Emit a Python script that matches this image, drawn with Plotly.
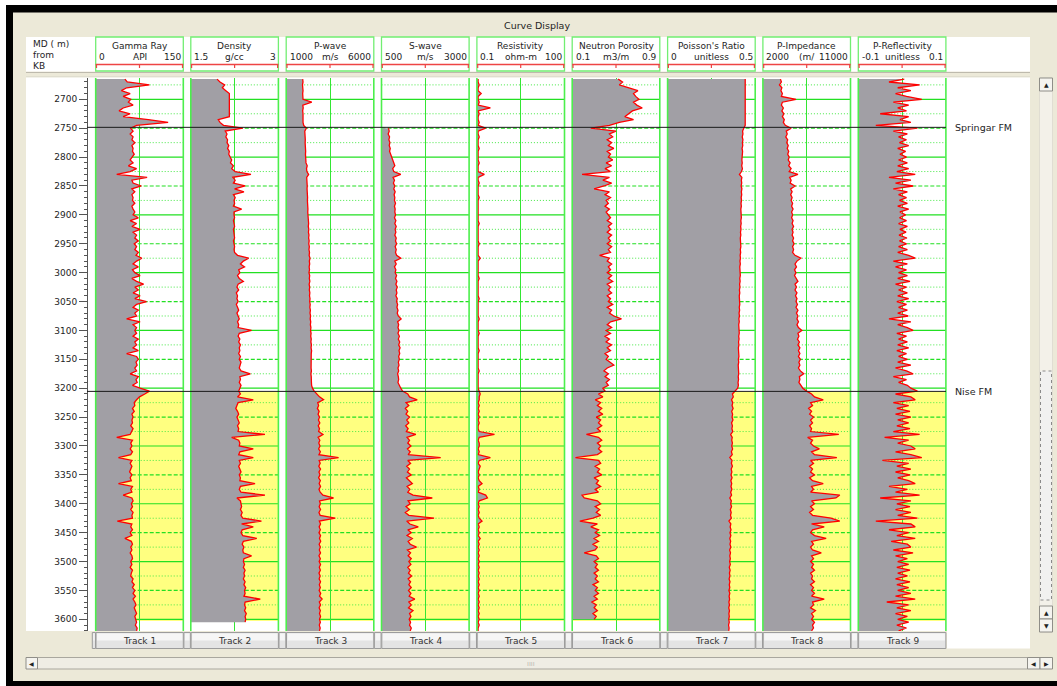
import math
import plotly.graph_objects as go

W, H = 1057, 686


def fx(x):
    return x / W


def fy(y):
    return 1 - y / H


# ---------------------------------------------------------------- data
TRACK_TITLES = ["Gamma Ray", "Density", "P-wave", "S-wave", "Resistivity",
                "Neutron Porosity", "Poisson's Ratio", "P-Impedance", "P-Reflectivity"]
TRACK_UNITS = ["API", "g/cc", "m/s", "m/s", "ohm-m", "m3/m", "unitless", "(m/", "unitless"]
SCALE_MIN = [0, 1.5, 1000, 500, 0.1, 0.1, 0, 2000, -0.1]
SCALE_MAX = [150, 3, 6000, 3000, 100, 0.9, 0.5, 11000, 0.1]
SCALE_MIN_LABELS = ["0", "1.5", "1000", "500", "0.1", "0.1", "0", "2000", "-0.1"]
SCALE_MAX_LABELS = ["150", "3", "6000", "3000", "100", "0.9", "0.5", "11000", "0.1"]
SCALE_LOG = [False, False, False, False, True, False, False, False, False]
BUTTON_LABELS = ["Track 1", "Track 2", "Track 3", "Track 4", "Track 5",
                 "Track 6", "Track 7", "Track 8", "Track 9"]

FORMATION_NAMES = ["Springar FM", "Nise FM"]
FORMATION_TOPS = [2748.5, 3205.5]
NISE_BASE = 3603

DEPTH_STEP = 5

GR_START = 2665
GR = [50, 54, 92, 53, 44, 59, 47,
      60, 56, 64, 47, 40, 59, 47, 90, 124, 70, 60, 64, 59, 64, 62, 67, 62, 64, 63, 66,
      62, 59, 64, 56, 70, 59, 36, 88, 62, 64, 78, 62, 67, 62, 64, 63, 67, 62, 64, 67,
      64, 73, 59, 70, 62, 76, 64, 70, 67, 73, 66, 70, 67, 73, 69, 79, 70, 64, 73, 63,
      67, 76, 62, 70, 82, 67, 73, 64, 76, 67, 87, 70, 64, 73, 67, 70, 53, 76, 64, 70,
      67, 70, 64, 73, 67, 70, 64, 73, 53, 70, 73, 69, 71, 67, 70, 59, 73, 69, 71, 63,
      76, 92, 84, 75, 70, 66, 67, 63, 66, 62, 64, 62, 63, 60, 64, 62, 59, 36, 63, 60,
      62, 59, 63, 60, 39, 62, 59, 62, 60, 58, 62, 59, 61, 39, 63, 60, 62, 47, 62, 64,
      61, 63, 60, 64, 62, 63, 37, 62, 60, 63, 59, 62, 50, 61, 63, 60, 62, 59, 62, 63,
      60, 62, 59, 63, 61, 60, 64, 62, 66, 63, 67, 64, 68, 64, 67, 69, 66, 68, 70, 67,
      69, 70, 68, 71, 70]

DEN_START = 2665
DEN = [1.95, 2.00, 2.08, 2.04, 2.10, 2.16, 2.16,
       2.16, 2.16, 2.16, 2.16, 2.16, 2.16, 2.16, 1.97, 2.00, 2.06, 2.39, 2.09, 2.12, 2.10, 2.13, 2.12, 2.15, 2.13, 2.16, 2.15,
       2.17, 2.20, 2.18, 2.23, 2.20, 2.26, 2.53, 2.22, 2.26, 2.23, 2.43, 2.25, 2.41, 2.23, 2.26, 2.24, 2.25, 2.23, 2.37, 2.24,
       2.24, 2.25, 2.23, 2.24, 2.25, 2.23, 2.24, 2.24, 2.25, 2.23, 2.24, 2.25, 2.24, 2.25, 2.30, 2.49, 2.40, 2.35, 2.42, 2.32,
       2.34, 2.30, 2.33, 2.40, 2.31, 2.29, 2.32, 2.28, 2.30, 2.29, 2.31, 2.28, 2.30, 2.32, 2.29, 2.31, 2.33, 2.30, 2.32, 2.31,
       2.54, 2.33, 2.31, 2.34, 2.32, 2.35, 2.33, 2.34, 2.32, 2.35, 2.33, 2.36, 2.34, 2.33, 2.36, 2.52, 2.34, 2.35, 2.33, 2.36,
       2.34, 2.32, 2.35, 2.30, 2.57, 2.31, 2.29, 2.27, 2.30, 2.32, 2.29, 2.31, 2.33, 2.30, 2.32, 2.31, 2.77, 2.20, 2.32, 2.34,
       2.33, 2.57, 2.34, 2.32, 2.57, 2.33, 2.35, 2.32, 2.34, 2.36, 2.33, 2.35, 2.34, 2.60, 2.35, 2.33, 2.36, 2.77, 2.29, 2.35,
       2.36, 2.37, 2.35, 2.38, 2.36, 2.39, 2.71, 2.37, 2.57, 2.38, 2.36, 2.39, 2.63, 2.40, 2.38, 2.41, 2.39, 2.40, 2.54, 2.41,
       2.40, 2.42, 2.40, 2.43, 2.41, 2.42, 2.40, 2.43, 2.41, 2.44, 2.42, 2.43, 2.41, 2.69, 2.43, 2.42, 2.44, 2.42, 2.45, 2.43,
       2.44, 2.43]

VP_START = 2665
VP = [1940, 1960, 1930, 1950, 1960, 1940, 1950,
      1960, 2460, 1950, 1970, 1940, 1960, 1950, 1980, 1960, 2000, 2150, 2060, 2080, 2070, 2090, 2080, 2100, 2090, 2110, 2100,
      2120, 2140, 2130, 2200, 2160, 2180, 2280, 2170, 2190, 2180, 2200, 2190, 2210, 2200, 2220, 2210, 2230, 2220, 2240, 2230,
      2250, 2270, 2250, 2280, 2260, 2290, 2270, 2300, 2280, 2310, 2290, 2320, 2300, 2330, 2310, 2360, 2320, 2340, 2310, 2330,
      2300, 2340, 2320, 2350, 2310, 2340, 2320, 2350, 2330, 2360, 2340, 2370, 2350, 2380, 2360, 2390, 2370, 2400, 2380, 2410,
      2390, 2420, 2400, 2430, 2410, 2440, 2420, 2450, 2430, 2420, 2440, 2410, 2430, 2420, 2440, 2410, 2430, 2420, 2440, 2450,
      2500, 2600, 2750, 2900, 3130, 2800, 2850, 2780, 2880, 2820, 2900, 2840, 2920, 2830, 2900, 2850, 3100, 2820, 2920, 2860,
      2930, 2850, 2950, 2870, 3990, 2880, 2940, 2860, 2960, 2870, 2930, 2850, 2950, 2880, 2960, 2870, 2940, 3100, 3700, 2900,
      2950, 2880, 2960, 2870, 2940, 3800, 2890, 2960, 2880, 2950, 2870, 2960, 2900, 2970, 2880, 2950, 2890, 2960, 2870, 2950,
      2880, 2960, 2890, 2950, 2870, 2940, 2880, 2960, 2890, 2950, 2880, 2970, 2900, 3050, 2890, 2960, 2880, 2950, 2900, 2960,
      2900, 2950, 2890, 2940, 2900]

VS_START = 2750
VS = [700, 720, 690, 730, 710, 740, 720, 750, 730, 760,
      780, 800, 830, 880, 820, 850, 1050, 830, 870, 840, 880, 850, 890, 860, 880, 870, 900, 870, 890, 880,
      900, 870, 910, 880, 920, 890, 910, 880, 920, 900, 930, 890, 920, 900, 930, 1050, 880, 920, 870, 910,
      890, 930, 900, 940, 910, 950, 920, 940, 910, 950, 930, 960, 940, 970, 950, 980, 1060, 960, 990, 970,
      1000, 970, 1010, 980, 1020, 990, 1030, 1000, 1020, 990, 1010, 980, 1000, 970, 990, 960, 980, 990, 970, 1000,
      1050, 1100, 1250, 1300, 1520, 1200, 1280, 1180, 1250, 1200, 1300, 1220, 1280, 1190, 1260, 1210, 1480, 1230, 1300, 1250,
      1340, 1240, 1320, 1260, 2190, 1250, 1330, 1220, 1300, 1240, 1350, 1210, 1290, 1380, 1230, 1310, 1250, 1400, 1950, 1260,
      1320, 1200, 1300, 1180, 1280, 2000, 1220, 1310, 1550, 1250, 1350, 1230, 1380, 1260, 1320, 1500, 1240, 1330, 1260, 1350,
      1280, 1340, 1250, 1320, 1270, 1360, 1260, 1330, 1280, 1350, 1270, 1340, 1290, 1450, 1280, 1350, 1270, 1400, 1300, 1340,
      1290, 1330, 1300, 1350, 1320]

RES_START = 2665
RES = [0.11, 0.11, 0.12, 0.11, 0.11, 0.14, 0.11,
       0.11, 0.12, 0.11, 0.29, 0.11, 0.12, 0.11, 0.11, 0.12, 0.11, 0.20, 0.11, 0.11, 0.12, 0.11, 0.11, 0.11, 0.12, 0.11, 0.11,
       0.11, 0.11, 0.12, 0.11, 0.11, 0.11, 0.18, 0.11, 0.11, 0.12, 0.11, 0.11, 0.11, 0.11, 0.12, 0.11, 0.11, 0.11, 0.11, 0.11,
       0.11, 0.11, 0.11, 0.12, 0.11, 0.11, 0.11, 0.11, 0.11, 0.11, 0.12, 0.11, 0.11, 0.11, 0.11, 0.13, 0.11, 0.11, 0.11, 0.11,
       0.11, 0.11, 0.12, 0.11, 0.11, 0.11, 0.11, 0.11, 0.11, 0.12, 0.11, 0.11, 0.11, 0.11, 0.11, 0.11, 0.12, 0.11, 0.11, 0.11,
       0.11, 0.12, 0.11, 0.11, 0.11, 0.11, 0.11, 0.12, 0.11, 0.11, 0.11, 0.11, 0.11, 0.11, 0.12, 0.11, 0.11, 0.11, 0.11, 0.11,
       0.11, 0.12, 0.13, 0.12, 0.12, 0.11, 0.12, 0.11, 0.12, 0.11, 0.12, 0.11, 0.12, 0.11, 0.11, 0.12, 0.40, 0.12, 0.11, 0.12,
       0.12, 0.11, 0.12, 0.11, 0.29, 0.12, 0.11, 0.13, 0.12, 0.11, 0.12, 0.11, 0.12, 0.15, 0.11, 0.12, 0.11, 0.20, 0.23, 0.12,
       0.11, 0.12, 0.11, 0.12, 0.11, 0.12, 0.15, 0.11, 0.12, 0.11, 0.12, 0.11, 0.13, 0.11, 0.12, 0.11, 0.12, 0.11, 0.12, 0.11,
       0.12, 0.11, 0.12, 0.11, 0.12, 0.11, 0.12, 0.11, 0.12, 0.11, 0.12, 0.11, 0.12, 0.11, 0.12, 0.11, 0.12, 0.11, 0.12, 0.11,
       0.12, 0.11, 0.12, 0.11, 0.11]

NPHI_START = 2665
NPHI = [0.52, 0.56, 0.53, 0.62, 0.70, 0.66, 0.68,
        0.71, 0.66, 0.69, 0.74, 0.65, 0.62, 0.58, 0.66, 0.53, 0.44, 0.27, 0.50, 0.44, 0.47, 0.42, 0.46, 0.43, 0.48, 0.42, 0.45,
        0.43, 0.47, 0.41, 0.46, 0.40, 0.45, 0.19, 0.44, 0.38, 0.46, 0.39, 0.30, 0.44, 0.40, 0.45, 0.41, 0.43, 0.40, 0.44, 0.41,
        0.43, 0.45, 0.42, 0.46, 0.43, 0.45, 0.42, 0.46, 0.43, 0.45, 0.42, 0.46, 0.43, 0.45, 0.35, 0.44, 0.42, 0.46, 0.43, 0.45,
        0.42, 0.46, 0.43, 0.47, 0.42, 0.45, 0.43, 0.46, 0.42, 0.45, 0.43, 0.47, 0.42, 0.46, 0.44, 0.48, 0.55, 0.45, 0.42, 0.46,
        0.41, 0.45, 0.40, 0.44, 0.41, 0.46, 0.42, 0.45, 0.40, 0.43, 0.41, 0.44, 0.48, 0.42, 0.39, 0.43, 0.40, 0.44, 0.41, 0.43,
        0.38, 0.40, 0.34, 0.38, 0.31, 0.36, 0.33, 0.37, 0.34, 0.38, 0.32, 0.36, 0.34, 0.37, 0.33, 0.36, 0.23, 0.34, 0.37, 0.33,
        0.36, 0.34, 0.37, 0.33, 0.13, 0.34, 0.36, 0.31, 0.35, 0.33, 0.37, 0.30, 0.34, 0.32, 0.36, 0.31, 0.34, 0.19, 0.21, 0.33,
        0.36, 0.31, 0.35, 0.32, 0.36, 0.29, 0.17, 0.33, 0.27, 0.34, 0.31, 0.35, 0.30, 0.34, 0.29, 0.33, 0.31, 0.21, 0.32, 0.34,
        0.30, 0.33, 0.31, 0.34, 0.30, 0.33, 0.31, 0.34, 0.29, 0.33, 0.31, 0.34, 0.30, 0.33, 0.28, 0.32, 0.30, 0.33, 0.29, 0.32,
        0.30]

PR_START = 2665
PR = [0.443, 0.443, 0.443, 0.443, 0.443, 0.443, 0.443,
      0.443, 0.443, 0.443, 0.443, 0.443, 0.443, 0.443, 0.443, 0.443, 0.443,
      0.435, 0.428, 0.430, 0.426, 0.430, 0.427, 0.429, 0.425, 0.428, 0.426,
      0.427, 0.424, 0.426, 0.423, 0.427, 0.422, 0.410, 0.424, 0.421, 0.423, 0.420, 0.424, 0.421, 0.423, 0.420, 0.422, 0.419, 0.421, 0.418, 0.420,
      0.419, 0.421, 0.418, 0.420, 0.417, 0.419, 0.416, 0.418, 0.415, 0.417, 0.416, 0.418, 0.415, 0.417, 0.414, 0.416, 0.413, 0.415, 0.412, 0.414,
      0.413, 0.415, 0.412, 0.414, 0.411, 0.413, 0.410, 0.412, 0.409, 0.411, 0.410, 0.412, 0.409, 0.411, 0.408, 0.410, 0.407, 0.409, 0.406, 0.408,
      0.407, 0.409, 0.406, 0.408, 0.405, 0.407, 0.404, 0.406, 0.405, 0.407, 0.404, 0.406, 0.403, 0.405, 0.404, 0.406, 0.403, 0.405, 0.402, 0.404,
      0.400, 0.385, 0.370, 0.375, 0.365, 0.372, 0.368, 0.374, 0.366, 0.371, 0.368, 0.373, 0.365, 0.370, 0.367, 0.372, 0.360, 0.369, 0.366, 0.370,
      0.366, 0.371, 0.364, 0.369, 0.355, 0.368, 0.364, 0.370, 0.363, 0.367, 0.362, 0.368, 0.361, 0.366, 0.362, 0.367, 0.360, 0.365, 0.355, 0.364,
      0.360, 0.365, 0.358, 0.363, 0.359, 0.364, 0.350, 0.361, 0.357, 0.362, 0.356, 0.361, 0.355, 0.360, 0.356, 0.361, 0.354, 0.359, 0.355, 0.358,
      0.354, 0.358, 0.352, 0.357, 0.353, 0.356, 0.351, 0.356, 0.352, 0.355, 0.350, 0.355, 0.351, 0.354, 0.350, 0.353, 0.349, 0.353, 0.350, 0.352,
      0.349, 0.352, 0.348, 0.351, 0.349]

AI_START = 2665
AI = [3800, 3900, 3700, 3950, 3850, 4000, 3900,
      5400, 4000, 3900, 4100, 3950, 4150, 4000, 4200, 4100, 4300, 4900, 4400, 4500, 4350, 4550, 4450, 4600, 4500, 4650, 4550,
      4700, 4600, 4800, 4650, 4900, 4700, 5600, 4750, 4900, 4800, 5300, 4850, 5000, 4850, 5000, 4900, 5050, 4950, 5100, 4950,
      5050, 4950, 5100, 5000, 5150, 5000, 5100, 5000, 5150, 5050, 5200, 5050, 5150, 5050, 5300, 5900, 5500, 5300, 5450, 5250,
      5400, 5250, 5450, 5600, 5300, 5450, 5300, 5500, 5350, 5500, 5400, 5550, 5400, 5600, 5450, 5600, 5500, 5650, 5500, 5650,
      6000, 5600, 5700, 5550, 5750, 5600, 5800, 5650, 5800, 5650, 5850, 5700, 5800, 5650, 5850, 6200, 5750, 5800, 5700, 5900,
      6100, 6500, 7000, 7300, 8200, 6900, 7100, 6700, 7000, 6800, 7200, 6900, 7100, 6800, 7000, 6900, 9800, 6600, 7100, 6900,
      7200, 7800, 7000, 7300, 9600, 6900, 7200, 6800, 7100, 6900, 7300, 6800, 7100, 8200, 7000, 7200, 6900, 9900, 9500, 7000,
      7300, 6900, 7200, 6800, 7100, 9000, 9900, 7000, 8300, 7100, 6900, 7300, 8500, 7000, 7200, 6900, 7100, 8000, 7000, 7200,
      6900, 7200, 7000, 7300, 6900, 7100, 7000, 7300, 6900, 7200, 7000, 7300, 7000, 8300, 7100, 7200, 6900, 7400, 7000, 7200,
      7000, 7300, 7100, 7200, 7000]

RC_START = 2665
RC = [0.005, -0.03, 0.04, -0.01, 0.02, -0.015, 0.01,
      0.045, -0.02, 0.015, -0.01, 0.01, -0.05, 0.015, -0.005, 0.02, -0.06, 0.035, -0.02, 0.012, -0.008, 0.01, -0.006, 0.015, -0.01, 0.008, -0.005,
      0.01, -0.008, 0.012, -0.01, 0.015, -0.012, 0.03, -0.03, 0.02, -0.015, 0.025, -0.02, 0.012, -0.008, 0.01, -0.006, 0.012, -0.01, 0.015, -0.005,
      0.008, -0.006, 0.01, -0.008, 0.012, -0.005, 0.009, -0.007, 0.011, -0.006, 0.01, -0.008, 0.012, -0.01, 0.015, 0.03, -0.02, 0.012, -0.015, 0.01,
      -0.008, 0.012, -0.01, 0.018, -0.015, 0.01, -0.008, 0.012, -0.01, 0.015, -0.012, 0.01, -0.008, 0.012, -0.01, 0.014, -0.03, 0.02, -0.01, 0.012,
      0.025, -0.012, 0.01, -0.008, 0.012, -0.01, 0.015, -0.012, 0.01, -0.008, 0.012, -0.01, 0.02, -0.015, 0.01, 0.025, -0.02, 0.01, -0.008, 0.012,
      0.02, 0.035, -0.015, 0.02, 0.03, -0.02, 0.015, -0.012, 0.018, -0.015, 0.02, -0.01, 0.015, -0.012, 0.018, -0.02, 0.04, -0.04, 0.015, -0.01,
      0.02, 0.03, -0.015, 0.02, 0.045, -0.045, 0.015, -0.012, 0.02, -0.015, 0.018, -0.01, 0.015, 0.03, -0.03, 0.012, -0.015, 0.04, -0.05, 0.02,
      -0.012, 0.018, -0.015, 0.02, -0.01, 0.035, -0.06, 0.02, 0.03, -0.03, 0.015, -0.012, 0.03, -0.025, 0.012, 0.02, -0.02, 0.025, -0.015, 0.012,
      -0.01, 0.015, -0.012, 0.018, -0.01, 0.012, -0.015, 0.018, -0.012, 0.015, -0.01, 0.02, -0.015, 0.03, -0.035, 0.015, -0.012, 0.02, -0.015, 0.012,
      -0.01, 0.015, -0.012, 0.01, -0.008]

CURVES = [(GR_START, GR), (DEN_START, DEN), (VP_START, VP), (VS_START, VS), (RES_START, RES),
          (NPHI_START, NPHI), (PR_START, PR), (AI_START, AI), (RC_START, RC)]

# ---------------------------------------------------------------- layout geometry (pixels)
TRACK_LEFT = [95.7, 190.8, 286.2, 381.5, 476.9, 572.2, 667.6, 762.9, 858.3]
TRACK_W = 87.6
PLOT_TOP, PLOT_BOT = 78.0, 631.0
DEPTH_TOP, DEPTH_BOT = 2663.1, 3620.2

FONT = "DejaVu Sans"
TXT = "#1e1e1e"
BEIGE = "#ECE9D8"
GRAY_FILL = "#A19FA5"
CURVE_RED = "#FF0000"
GREEN = "#33E633"
GREEN_BORDER = "#4CEF4C"

fig = go.Figure()
shapes = []
annotations = []


def prect(x0, y0, x1, y1, fill, line=None, lw=0, dash=None):
    d = dict(type="rect", xref="paper", yref="paper",
             x0=fx(x0), x1=fx(x1), y0=fy(y1), y1=fy(y0),
             fillcolor=fill, layer="below",
             line=dict(color=line or fill, width=lw))
    if dash:
        d["line"]["dash"] = dash
    shapes.append(d)


def pline(x0, y0, x1, y1, color, lw=1, layer="below"):
    shapes.append(dict(type="line", xref="paper", yref="paper",
                       x0=fx(x0), x1=fx(x1), y0=fy(y0), y1=fy(y1),
                       line=dict(color=color, width=lw), layer=layer))


def ptext(x, y, text, size=9, xanchor="center", color=TXT):
    annotations.append(dict(xref="paper", yref="paper", x=fx(x), y=fy(y), text=text,
                            showarrow=False, xanchor=xanchor, yanchor="middle",
                            font=dict(family=FONT, size=size, color=color)))


# window chrome
prect(0, 0, W, 5, "white")
prect(0, 0, 6, H, "white")
prect(6, 5, W, 12.5, "#000000")
prect(6, 5, 13, H, "#000000")
prect(6, 681, W, H, "#000000")
ptext(537, 25, "Curve Display", size=9.5)

# header & plot white areas
prect(26, 37, 1030, 71.5, "white")
pline(26, 72.5, 1030, 72.5, "#BEBAAD", 1.2)
pline(26, 76.8, 1030, 76.8, "#DCD9CC", 1)
prect(26, 77.5, 1030, 631, "white")
prect(947, 631, 1030, 648.5, "white")

ptext(31, 44.5, "MD ( m)", xanchor="left")
ptext(31, 55, "from", xanchor="left")
ptext(31, 65.5, "KB", xanchor="left")

# track headers
for k in range(9):
    L = TRACK_LEFT[k]
    R = L + TRACK_W
    M = (L + R) / 2
    prect(L, 37, R, 71, "white", line="#72EE72", lw=1.3)
    ptext(M, 45.5, TRACK_TITLES[k])
    ptext(L + 1.5, 57, SCALE_MIN_LABELS[k], xanchor="left")
    ptext(M, 57, TRACK_UNITS[k])
    ptext(R - 0.5, 57, SCALE_MAX_LABELS[k], xanchor="right")
    pline(L, 64.5, R, 64.5, "#EE4444", 1.3)
    for xt in (L + 0.8, M, R - 0.8):
        pline(xt, 64, xt, 68, "#EE4444", 1.2)


# bottom track buttons
def button(x0, x1, label=None):
    prect(x0, 632.5, x1, 648.5, "#E4E4E4", line="#9C9C9C", lw=1)
    prect(x0 + 1, 633.5, x1 - 1, 640.5, "#F6F6F6")
    if label:
        ptext((x0 + x1) / 2, 640.5, label, color="#333333")


button(92.3, 95.5)
for k in range(9):
    L = TRACK_LEFT[k]
    button(L + 0.3, L + TRACK_W, BUTTON_LABELS[k])
    if k < 8:
        button(L + TRACK_W + 0.6, TRACK_LEFT[k + 1] - 0.4)

# horizontal scrollbar
prect(37.5, 657.5, 1027.5, 669, "#EFEDE4", line="#A9A79E", lw=1)
prect(26, 657.5, 37.5, 669, "#F5F4EF", line="#8F8E88", lw=1)
ptext(31.8, 663.3, "◀", size=6, color="#222222")
prect(1027.5, 657.5, 1040, 669, "#F5F4EF", line="#8F8E88", lw=1)
ptext(1033.8, 663.3, "◀", size=6, color="#222222")
prect(1040, 657.5, 1052.5, 669, "#F5F4EF", line="#8F8E88", lw=1)
ptext(1046.3, 663.3, "▶", size=6, color="#222222")
ptext(531, 663.3, "⁞⁞⁞⁞", size=6, color="#A6A49C")

# vertical scrollbar
prect(1039.5, 78, 1052.5, 632, "#F3F1E9", line="#E0DDD2", lw=1)
prect(1039.5, 78, 1052.5, 91, "#F5F4EF", line="#8F8E88", lw=1)
ptext(1046, 84.5, "▲", size=6, color="#222222")
prect(1040.5, 371, 1051.5, 600, "#F1F1F0", line="#8A8A8A", lw=1, dash="dot")
prect(1039.5, 606, 1052.5, 619, "#F5F4EF", line="#8F8E88", lw=1)
ptext(1046, 612.5, "▲", size=6, color="#222222")
prect(1039.5, 619, 1052.5, 632, "#F5F4EF", line="#8F8E88", lw=1)
ptext(1046, 625.5, "▼", size=6, color="#222222")

# ---------------------------------------------------------------- tracks
layout_axes = {}
for k in range(9):
    name = "xaxis" if k == 0 else f"xaxis{k + 1}"
    xa = "x" if k == 0 else f"x{k + 1}"
    L = TRACK_LEFT[k]
    lo, hi = SCALE_MIN[k], SCALE_MAX[k]
    if SCALE_LOG[k]:
        rng = [math.log10(lo), math.log10(hi)]
        mid = 10 ** ((rng[0] + rng[1]) / 2)
        typ = "log"
    else:
        rng = [lo, hi]
        mid = (lo + hi) / 2
        typ = "linear"
    layout_axes[name] = dict(domain=[fx(L), fx(L + TRACK_W)], anchor="y", range=rng, type=typ,
                             showticklabels=False, ticks="", showline=False, zeroline=False,
                             showgrid=True, tickvals=[mid], gridcolor=GREEN, gridwidth=1,
                             fixedrange=True)

    xdom = f"{xa} domain"
    # formation zone shading
    shapes.append(dict(type="rect", xref=xdom, yref="y", x0=0, x1=1,
                       y0=FORMATION_TOPS[1], y1=NISE_BASE, fillcolor="#FFFF80",
                       line=dict(width=0), layer="below"))
    # depth grid
    for d in range(2700, 3601, 100):
        shapes.append(dict(type="line", xref=xdom, yref="y", x0=0, x1=1, y0=d, y1=d,
                           line=dict(color="#22E022", width=1.2), layer="below"))
    for d in range(2750, 3600, 100):
        shapes.append(dict(type="line", xref=xdom, yref="y", x0=0, x1=1, y0=d, y1=d,
                           line=dict(color="#22E022", width=1.2, dash="4px,2px"), layer="below"))
    for d in range(2675, 3600, 50):
        shapes.append(dict(type="line", xref=xdom, yref="y", x0=0, x1=1, y0=d, y1=d,
                           line=dict(color="#44E844", width=1, dash="1px,2px"), layer="below"))
    # borders
    for xd in (0, 1):
        shapes.append(dict(type="line", xref=xdom, yref="y domain", x0=xd, x1=xd, y0=0, y1=1,
                           line=dict(color=GREEN_BORDER, width=1.6), layer="above"))

    start, vals = CURVES[k]
    depths = [start + DEPTH_STEP * i for i in range(len(vals))]
    fig.add_trace(go.Scatter(x=[lo, lo], y=[depths[0], depths[-1]], mode="lines",
                             line=dict(width=0, color="rgba(0,0,0,0)"),
                             xaxis=xa, yaxis="y", hoverinfo="skip", showlegend=False))
    fig.add_trace(go.Scatter(x=vals, y=depths, mode="lines",
                             line=dict(color=CURVE_RED, width=1.3),
                             fill="tonextx", fillcolor=GRAY_FILL,
                             xaxis=xa, yaxis="y", hoverinfo="skip", showlegend=False))

# formation tops
for name, top in zip(FORMATION_NAMES, FORMATION_TOPS):
    shapes.append(dict(type="line", xref="paper", yref="y", x0=fx(87), x1=fx(946),
                       y0=top, y1=top, line=dict(color="#1a1a1a", width=1), layer="above"))
    annotations.append(dict(xref="paper", yref="y", x=fx(952.5), y=top, text=name,
                            showarrow=False, xanchor="left", yanchor="middle",
                            font=dict(family=FONT, size=9.5, color=TXT)))

fig.update_layout(
    width=W, height=H, autosize=False,
    margin=dict(l=0, r=0, t=0, b=0, pad=0),
    paper_bgcolor=BEIGE, plot_bgcolor="white",
    showlegend=False,
    font=dict(family=FONT, size=9, color=TXT),
    yaxis=dict(domain=[fy(PLOT_BOT), fy(PLOT_TOP)], range=[DEPTH_BOT, DEPTH_TOP],
               anchor="free", position=fx(87), side="left",
               showline=True, linecolor="#555555", linewidth=1,
               ticks="outside", ticklen=8, tickwidth=1, tickcolor="#555555",
               tick0=2700, dtick=50, showgrid=False, zeroline=False,
               tickfont=dict(family=FONT, size=9, color=TXT),
               minor=dict(tick0=2700, dtick=10, ticks="outside", ticklen=3,
                          tickcolor="#555555", showgrid=False),
               fixedrange=True),
    shapes=shapes,
    annotations=annotations,
    **layout_axes,
)

fig.write_html("out.html", config={"displayModeBar": False},
               post_script="document.body.style.margin='0';document.body.style.overflow='hidden';")
